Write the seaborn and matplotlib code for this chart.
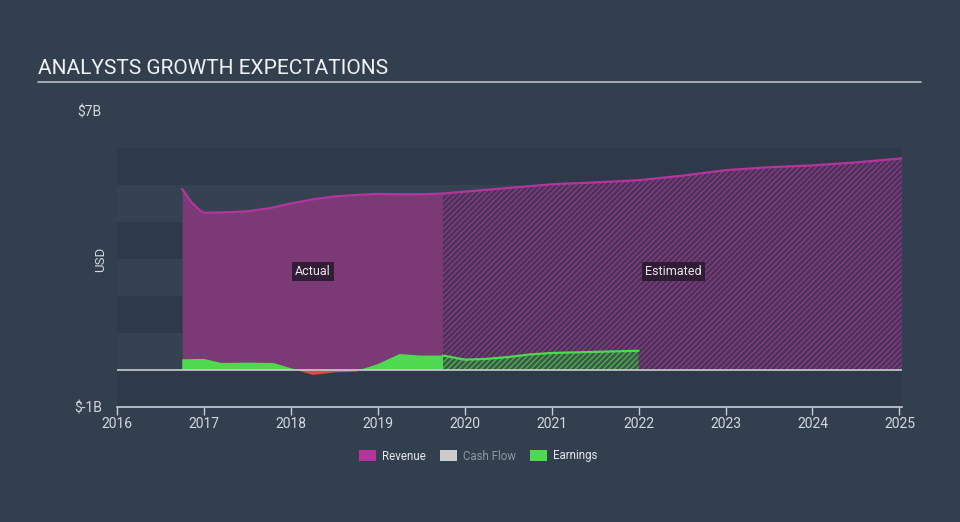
import matplotlib
matplotlib.use("Agg")
import matplotlib.pyplot as plt
import seaborn as sns
import numpy as np
import pandas as pd
from matplotlib.patches import Patch

# ---------------- data (USD billions, decimal years) ----------------
rev_years = [2016.75, 2016.85, 2016.95, 2017.0, 2017.25, 2017.5, 2017.75, 2018.0, 2018.25,
             2018.5, 2018.75, 2019.0, 2019.25, 2019.5, 2019.75, 2020.0, 2020.5, 2021.0,
             2021.5, 2022.0, 2022.5, 2023.0, 2023.5, 2024.0, 2024.5, 2025.03]
rev_values = [4.89, 4.55, 4.32, 4.25, 4.26, 4.29, 4.37, 4.50, 4.61, 4.69, 4.73, 4.76, 4.75,
              4.75, 4.77, 4.82, 4.92, 5.02, 5.07, 5.13, 5.25, 5.40, 5.48, 5.53, 5.61, 5.72]

earn_years = [2016.75, 2017.0, 2017.2, 2017.5, 2017.8, 2018.0, 2018.25, 2018.5, 2018.75,
              2019.0, 2019.25, 2019.5, 2019.75, 2020.0, 2020.25, 2020.5, 2020.75, 2021.0,
              2021.5, 2022.0]
earn_values = [0.29, 0.30, 0.19, 0.20, 0.19, 0.05, -0.12, -0.05, -0.03, 0.16, 0.43, 0.39,
               0.39, 0.28, 0.30, 0.35, 0.42, 0.46, 0.49, 0.52]

forecast_start = 2019.75
x_ticks = [2016, 2017, 2018, 2019, 2020, 2021, 2022, 2023, 2024, 2025]
y_tick_values = [7, -1]
y_tick_labels = ["$7B", "$-1B"]
legend_labels = ["Revenue", "Cash Flow", "Earnings"]

# ---------------- style ----------------
BG = "#323f4f"
BAND_A = "#2e3a4a"
BAND_B = "#344251"
REV_LINE = "#b5359c"
REV_FILL = "#7b3a75"
REV_FC = "#4a3456"
GREEN = "#4fd94f"
GREEN_FC = "#3b5a4a"
RED = "#e8474a"
TXT = "#d5d9de"

sns.set_theme(style="dark")
plt.rcParams["font.family"] = ["Roboto", "DejaVu Sans"]
plt.rcParams["hatch.linewidth"] = 0.9

fig = plt.figure(figsize=(9.6, 5.22), dpi=100, facecolor=BG)
ax = fig.add_axes([117/960, 1-407/522, (902-117)/960, (407-111)/522])
ax.set_facecolor(BG)

# bands
for i, lo in enumerate(range(-1, 6)):
    ax.axhspan(lo, lo + 1, color=BAND_A if i % 2 == 0 else BAND_B, lw=0, zorder=0)

rev = pd.DataFrame({"year": rev_years, "value": rev_values})
earn = pd.DataFrame({"year": earn_years, "value": earn_values})

ra = rev[rev.year <= forecast_start]
rf = rev[rev.year >= forecast_start]
ea = earn[earn.year <= forecast_start]
ef = earn[earn.year >= forecast_start]

# revenue fills
ax.fill_between(ra.year, 0, ra.value, color=REV_FILL, lw=0, zorder=1)
ax.fill_between(rf.year, 0, rf.value, facecolor=REV_FC, edgecolor="#8e3a8c",
                hatch="//////", lw=0, zorder=1)

# earnings fills
ea_y = np.array(ea.value)
ax.fill_between(ea.year, 0, ea_y, where=ea_y >= 0, interpolate=True, color=GREEN, lw=0, zorder=2)
ax.fill_between(ea.year, 0, ea_y, where=ea_y <= 0, interpolate=True, color=RED, lw=0, zorder=2)
ax.fill_between(ef.year, 0, ef.value, facecolor=GREEN_FC, edgecolor="#4cb84c",
                hatch="//////", lw=0, zorder=2)

# lines
sns.lineplot(data=rev, x="year", y="value", color=REV_LINE, lw=1.6, ax=ax, zorder=3)
sns.lineplot(data=ef, x="year", y="value", color=GREEN, lw=1.6, ax=ax, zorder=3)

ax.axhline(0, color="#c9cdd2", lw=1.2, zorder=4)

ax.set_xlim(2016, 2025.03)
ax.set_ylim(-1, 7)
ax.set_xticks(x_ticks)
ax.set_xticklabels([str(t) for t in x_ticks], color=TXT, fontsize=10)
ax.set_yticks(y_tick_values)
ax.set_yticklabels(y_tick_labels, color=TXT, fontsize=10)
ax.tick_params(axis="y", length=0, pad=11)
ax.tick_params(axis="x", length=6, width=1, color="#c9cdd2", direction="out", pad=1, bottom=True)
ax.set_xlabel("")
ax.set_ylabel("USD", color=TXT, fontsize=9.5)
ax.yaxis.set_label_coords(-0.012, 0.5)
for s in ["top", "right", "left"]:
    ax.spines[s].set_visible(False)
ax.spines["bottom"].set_color("#c9cdd2")
ax.spines["bottom"].set_linewidth(1.2)
ax.grid(False)

box = dict(boxstyle="square,pad=0.25", facecolor="#2b1a2f", edgecolor="none", alpha=0.9)
ax.text(2018.25, 2.66, "Actual", color="#e8e8ec", fontsize=9, ha="center", va="center", bbox=box, zorder=5)
ax.text(2022.4, 2.66, "Estimated", color="#e8e8ec", fontsize=9, ha="center", va="center", bbox=box, zorder=5)

# title
fig.text(38/960, 1-68/522, "ANALYSTS GROWTH EXPECTATIONS", color="#f0f2f4", fontsize=15,
         ha="left", va="center")
fig.add_artist(plt.Line2D([38/960, 921/960], [1-82/522, 1-82/522], color="#b8bec6", lw=1.2))

# legend
handles = [Patch(facecolor=REV_LINE, edgecolor="none"),
           Patch(facecolor="#cccccc", edgecolor="none"),
           Patch(facecolor=GREEN, edgecolor="none")]
leg = fig.legend(handles, legend_labels, loc="center", bbox_to_anchor=(478/960, 1-456/522),
                 ncol=3, frameon=False, fontsize=8.3, handlelength=1.5, handleheight=1.1,
                 columnspacing=1.2, handletextpad=0.5)
for t, c in zip(leg.get_texts(), ["#e8e8ec", "#8d98a4", "#e8e8ec"]):
    t.set_color(c)

fig.savefig("out.png", dpi=100, facecolor=BG)
